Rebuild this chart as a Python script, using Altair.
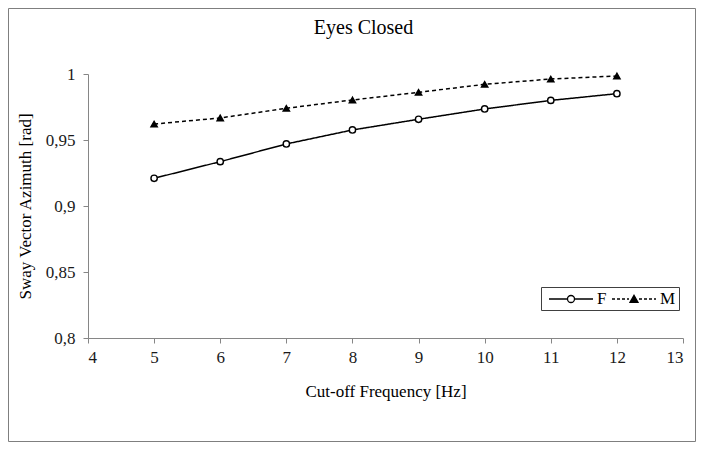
import altair as alt
import pandas as pd

freq = [5, 6, 7, 8, 9, 10, 11, 12]
f_vals = [0.9210, 0.9336, 0.9470, 0.9576, 0.9657, 0.9735, 0.9800, 0.9851]
m_vals = [0.9621, 0.9667, 0.9740, 0.9803, 0.9861, 0.9922, 0.9962, 0.9985]
series_names = ["F", "M"]
x_ticks = [4, 5, 6, 7, 8, 9, 10, 11, 12, 13]
y_ticks = [0.8, 0.85, 0.9, 0.95, 1.0]

df = pd.DataFrame({
    "freq": freq + freq,
    "value": f_vals + m_vals,
    "series": ["F"] * len(freq) + ["M"] * len(freq),
})

FONT = "Liberation Serif"
AXC = "#868686"

x_enc = alt.X("freq:Q", title="Cut-off Frequency [Hz]",
              scale=alt.Scale(domain=[4, 13], nice=False, zero=False),
              axis=alt.Axis(values=x_ticks, format="d", labelPadding=6, titlePadding=18))
y_enc = alt.Y("value:Q", title="Sway Vector Azimuth [rad]",
              scale=alt.Scale(domain=[0.8, 1.0], nice=False, zero=False),
              axis=alt.Axis(values=y_ticks,
                            labelExpr="replace(format(datum.value, '.2~f'), '.', ',')",
                            labelPadding=8, titlePadding=11))

lines = alt.Chart(df).mark_line(color="black", strokeWidth=1.5).encode(
    x=x_enc, y=y_enc,
    strokeDash=alt.StrokeDash("series:N",
                              scale=alt.Scale(domain=series_names, range=[[1, 0], [4, 3]]),
                              legend=None),
    detail="series:N",
)

points = alt.Chart(df).mark_point(stroke="black", strokeWidth=1.4, size=40, opacity=1).encode(
    x=x_enc, y=y_enc,
    shape=alt.Shape("series:N",
                    scale=alt.Scale(domain=series_names, range=["circle", "triangle-up"]),
                    legend=None),
    fill=alt.Fill("series:N",
                  scale=alt.Scale(domain=series_names, range=["white", "black"]),
                  legend=None),
)

# legend symbols: unit = 8px (symbolSize 256), drawn from -0.5 to 5 units
path_f = ("M-0.5,0L1.8125,0M2.6875,0L5,0"
          "M1.8125,0A0.4375,0.4375,0,1,0,2.6875,0A0.4375,0.4375,0,1,0,1.8125,0Z")
path_m = ("M-0.5,0L-0.125,0M0.125,0L0.5,0M0.75,0L1.125,0M1.375,0L1.625,0"
          "M2.875,0L3.25,0M3.5,0L3.875,0M4.125,0L4.5,0M4.75,0L5,0"
          "M1.75,0.42L2.25,-0.45L2.75,0.42Z")

legend_layer = alt.Chart(df).transform_filter("datum.freq < 0").mark_point(
    strokeWidth=1.3, size=256, opacity=1
).encode(
    x=x_enc, y=y_enc,
    shape=alt.Shape("series:N",
                    scale=alt.Scale(domain=series_names, range=[path_f, path_m]),
                    legend=alt.Legend(title=None, orient="none", legendX=453, legendY=213,
                                      direction="horizontal", columns=2,
                                      symbolSize=256, symbolStrokeWidth=1.3,
                                      symbolStrokeColor="black",
                                      labelFont=FONT, labelFontSize=17, labelColor="black",
                                      labelOffset=35, columnPadding=0,
                                      padding=3, strokeColor="#404040", fillColor="white")),
    fill=alt.Fill("series:N",
                  scale=alt.Scale(domain=series_names, range=["white", "black"])),
    stroke=alt.Stroke("series:N",
                      scale=alt.Scale(domain=series_names, range=["black", "black"])),
)

border = alt.Chart(pd.DataFrame({"a": [0]})).mark_rect(
    fill=None, stroke="#7f7f7f", strokeWidth=1
).encode(
    x=alt.value(-79.5), x2=alt.value(607.5),
    y=alt.value(-65.5), y2=alt.value(367.5),
)

chart = alt.layer(border, lines, points, legend_layer).resolve_scale(
    shape="independent", fill="independent", strokeDash="independent", stroke="independent"
).properties(
    width=595, height=264,
    autosize=alt.AutoSizeParams(type="none"),
    padding={"left": 80, "top": 66, "right": 13, "bottom": 104},
    title=alt.TitleParams("Eyes Closed", font=FONT, fontSize=20, fontWeight="normal",
                          color="black", anchor="middle", dx=-22, offset=-30),
).configure_view(strokeWidth=0).configure_axis(
    grid=False, domainColor=AXC, tickColor=AXC, tickSize=5,
    labelFont=FONT, labelFontSize=17, labelColor="#1a1a1a",
    titleFont=FONT, titleFontSize=17, titleFontWeight="normal", titleColor="black",
)

chart.save("out.html", embed_options={"renderer": "svg", "actions": False})
